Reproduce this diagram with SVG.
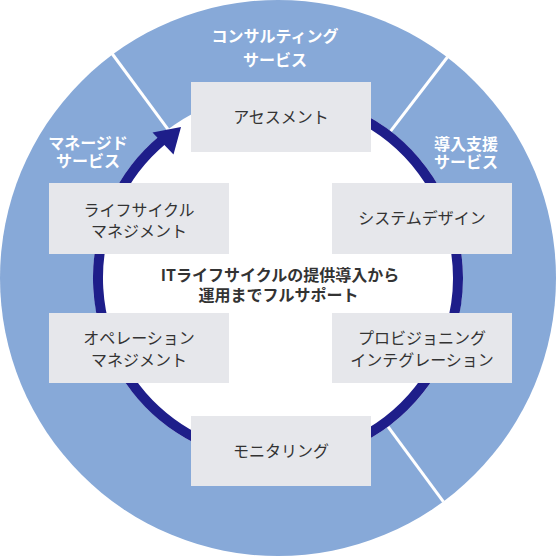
<svg xmlns="http://www.w3.org/2000/svg" width="556" height="556" viewBox="0 0 556 556">
  <style>
    .box { fill: #e6e7eb; }
    .lbl { font-family: "Noto Sans CJK JP", "Noto Sans", sans-serif; font-size: 16px; fill: #333333; text-anchor: middle; }
    .ttl { font-family: "Noto Sans CJK JP", "Noto Sans", sans-serif; font-size: 16px; font-weight: 700; fill: #ffffff; text-anchor: middle; }
    .ctr { font-family: "Noto Sans CJK JP", "Noto Sans", sans-serif; font-size: 16px; font-weight: 700; fill: #333333; text-anchor: middle; }
    .div { stroke: #ffffff; stroke-width: 3; }
  </style>
  <g id="background">
    <circle cx="278" cy="278" r="278" fill="#87a9d8"/>
    <line class="div" x1="168" y1="129.3" x2="112" y2="53.5"/>
    <line class="div" x1="390.6" y1="131.2" x2="447.5" y2="57"/>
    <line class="div" x1="388" y1="426.7" x2="443.5" y2="501.8"/>
    <circle cx="278" cy="278" r="185" fill="#ffffff"/>
  </g>
  <g id="sector-consulting">
    <text class="ttl" x="275" y="42">コンサルティング</text>
    <text class="ttl" x="275" y="65.5">サービス</text>
  </g>
  <g id="sector-managed">
    <text class="ttl" x="88" y="148.5">マネージド</text>
    <text class="ttl" x="88" y="167">サービス</text>
  </g>
  <g id="sector-support">
    <text class="ttl" x="466" y="149.5">導入支援</text>
    <text class="ttl" x="466" y="168">サービス</text>
  </g>
  <g id="connectors">
    <path d="M 278 98 A 180 180 0 1 1 162.3 140.1" fill="none" stroke="#1e1e8a" stroke-width="10"/>
    <polygon points="181,127 152.5,132.5 173.5,154.5" fill="#1e1e8a"/>
  </g>
  <g id="center-text">
    <text class="ctr" x="280" y="281">ITライフサイクルの提供導入から</text>
    <text class="ctr" x="278.5" y="301">運用までフルサポート</text>
  </g>
  <g id="node-assessment">
    <rect class="box" x="191" y="82" width="180" height="70"/>
    <text class="lbl" x="281" y="122.5">アセスメント</text>
  </g>
  <g id="node-lifecycle">
    <rect class="box" x="49" y="183" width="180" height="71"/>
    <text class="lbl" x="139" y="215.5">ライフサイクル</text>
    <text class="lbl" x="139" y="237">マネジメント</text>
  </g>
  <g id="node-systemdesign">
    <rect class="box" x="332" y="183" width="180" height="71"/>
    <text class="lbl" x="422" y="224">システムデザイン</text>
  </g>
  <g id="node-operation">
    <rect class="box" x="49" y="313" width="180" height="70"/>
    <text class="lbl" x="139" y="344">オペレーション</text>
    <text class="lbl" x="139" y="365.5">マネジメント</text>
  </g>
  <g id="node-provisioning">
    <rect class="box" x="332" y="313" width="180" height="70"/>
    <text class="lbl" x="422" y="344">プロビジョニング</text>
    <text class="lbl" x="422" y="365.5">インテグレーション</text>
  </g>
  <g id="node-monitoring">
    <rect class="box" x="191" y="416" width="180" height="70"/>
    <text class="lbl" x="281" y="457">モニタリング</text>
  </g>
</svg>
